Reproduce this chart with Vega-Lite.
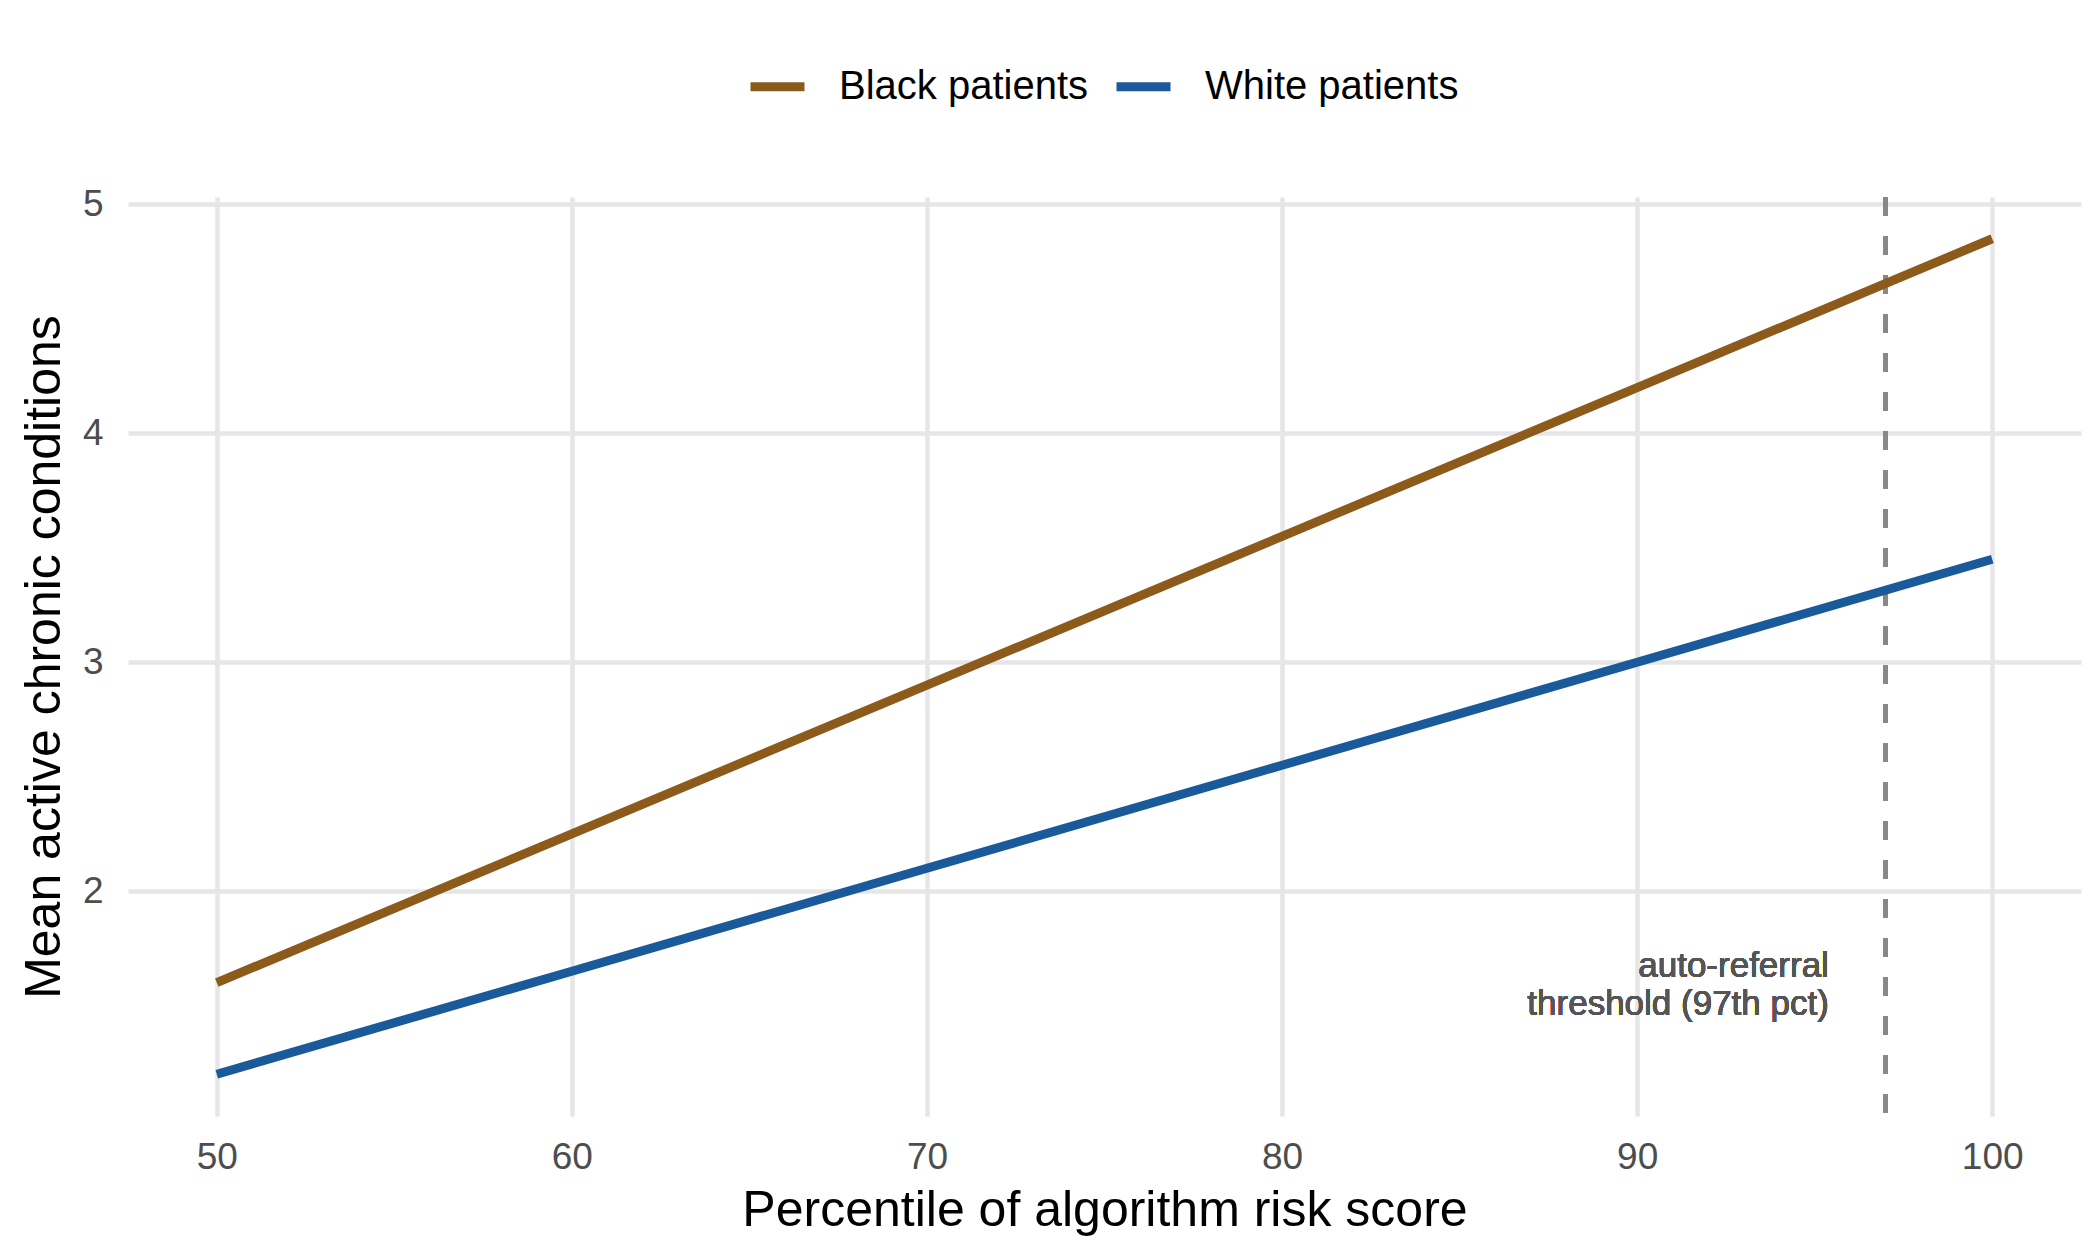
{
  "$schema": "https://vega.github.io/schema/vega-lite/v6.json",
  "width": 1953,
  "height": 919,
  "autosize": {"type": "none"},
  "padding": {"left": 128, "top": 197, "right": 19, "bottom": 144},
  "background": "white",
  "config": {
    "view": {"stroke": null},
    "font": "Liberation Sans",
    "axis": {
      "domain": false,
      "ticks": false,
      "grid": true,
      "gridColor": "#E6E6E6",
      "gridWidth": 4.5,
      "labelFont": "Liberation Sans",
      "labelFontSize": 37,
      "labelColor": "#4D4D4D",
      "titleFont": "Liberation Sans",
      "titleFontSize": 50,
      "titleFontWeight": "normal",
      "titleColor": "#000000"
    }
  },
  "data": {
    "values": [
      {"group": "Black patients", "pct": 50, "conditions": 1.6},
      {"group": "Black patients", "pct": 60, "conditions": 2.25},
      {"group": "Black patients", "pct": 70, "conditions": 2.9},
      {"group": "Black patients", "pct": 80, "conditions": 3.55},
      {"group": "Black patients", "pct": 90, "conditions": 4.2},
      {"group": "Black patients", "pct": 100, "conditions": 4.85},
      {"group": "White patients", "pct": 50, "conditions": 1.2},
      {"group": "White patients", "pct": 60, "conditions": 1.65},
      {"group": "White patients", "pct": 70, "conditions": 2.1},
      {"group": "White patients", "pct": 80, "conditions": 2.55},
      {"group": "White patients", "pct": 90, "conditions": 3.0},
      {"group": "White patients", "pct": 100, "conditions": 3.45}
    ]
  },
  "layer": [
    {
      "mark": {"type": "rule", "color": "#888888", "strokeWidth": 4.5, "strokeDash": [19, 20]},
      "encoding": {
        "x": {
          "datum": 97,
          "type": "quantitative",
          "title": "Percentile of algorithm risk score",
          "scale": {"domain": [47.5, 102.5], "nice": false, "zero": false},
          "axis": {"values": [50, 60, 70, 80, 90, 100], "grid": true, "labelPadding": 23, "titlePadding": 10}
        }
      }
    },
    {
      "mark": {"type": "line", "strokeWidth": 9, "strokeCap": "butt"},
      "encoding": {
        "x": {
          "field": "pct",
          "type": "quantitative",
          "title": "Percentile of algorithm risk score",
          "scale": {"domain": [47.5, 102.5], "nice": false, "zero": false},
          "axis": {"values": [50, 60, 70, 80, 90, 100], "grid": true, "labelPadding": 23, "titlePadding": 10}
        },
        "y": {
          "field": "conditions",
          "type": "quantitative",
          "title": "Mean active chronic conditions",
          "scale": {"domain": [1.0175, 5.0325], "nice": false, "zero": false},
          "axis": {"values": [2, 3, 4, 5], "format": "d", "grid": true, "labelPadding": 25, "titlePadding": 13}
        },
        "color": {
          "field": "group",
          "type": "nominal",
          "title": null,
          "scale": {"domain": ["Black patients", "White patients"], "range": ["#8C5A1B", "#1A5A9A"]},
          "legend": {
            "orient": "none",
            "direction": "horizontal",
            "legendX": 618,
            "legendY": -142,
            "padding": 0,
            "symbolType": "stroke",
            "symbolSize": 2916,
            "symbolStrokeWidth": 9,
            "labelFont": "Liberation Sans",
            "labelFontSize": 40,
            "labelColor": "#000000",
            "labelOffset": 30,
            "columnPadding": 9,
            "labelLimit": 400
          }
        }
      }
    },
    {
      "mark": {
        "type": "text",
        "text": ["auto-referral", "threshold (97th pct)"],
        "align": "right",
        "baseline": "alphabetic",
        "lineHeight": 38,
        "fontSize": 35,
        "color": "#555555",
        "font": "Liberation Sans"
      },
      "encoding": {
        "x": {"datum": 95.4, "type": "quantitative"},
        "y": {"datum": 1.626, "type": "quantitative"}
      }
    }
  ]
}
